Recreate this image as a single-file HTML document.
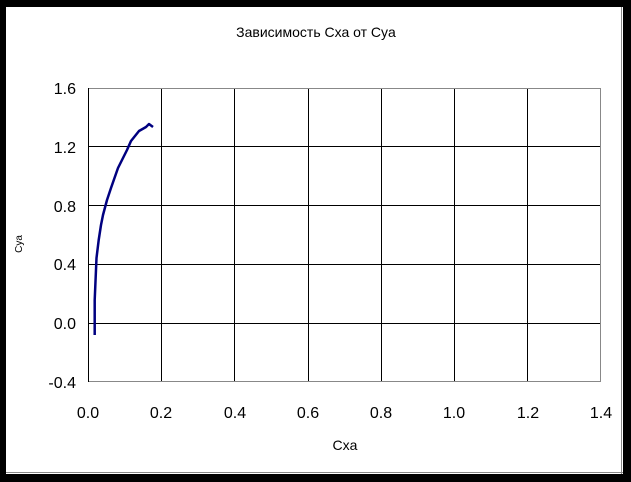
<!DOCTYPE html>
<html><head><meta charset="utf-8"><style>
html,body{margin:0;padding:0;background:#000;}
svg{display:block;font-family:"Liberation Sans",sans-serif;}
</style></head><body>
<svg width="631" height="482" xmlns="http://www.w3.org/2000/svg">
<rect x="0" y="0" width="631" height="482" fill="#000"/>
<rect x="6" y="7" width="617" height="467" fill="#fff"/>
<line x1="621.5" y1="7" x2="621.5" y2="474" stroke="#888" stroke-width="1"/>
<line x1="6" y1="472.5" x2="623" y2="472.5" stroke="#888" stroke-width="1"/>
<text x="316" y="37" font-size="14" text-anchor="middle">Зависимость Сха от Сyа</text>
<g stroke="#000" stroke-width="1">
<line x1="161.5" y1="88" x2="161.5" y2="382"/>
<line x1="234.5" y1="88" x2="234.5" y2="382"/>
<line x1="308.5" y1="88" x2="308.5" y2="382"/>
<line x1="381.5" y1="88" x2="381.5" y2="382"/>
<line x1="454.5" y1="88" x2="454.5" y2="382"/>
<line x1="527.5" y1="88" x2="527.5" y2="382"/>
<line x1="88" y1="146.5" x2="601" y2="146.5"/>
<line x1="88" y1="205.5" x2="601" y2="205.5"/>
<line x1="88" y1="264.5" x2="601" y2="264.5"/>
<line x1="88" y1="323.5" x2="601" y2="323.5"/>
<line x1="88.5" y1="88" x2="88.5" y2="382"/>
</g>
<rect x="88.5" y="88.5" width="512" height="293" fill="none" stroke="#888" stroke-width="1"/>
<line x1="88.5" y1="88" x2="88.5" y2="382" stroke="#000"/>
<g font-size="16" text-anchor="end">
<text x="76" y="94">1.6</text>
<text x="76" y="153">1.2</text>
<text x="76" y="212">0.8</text>
<text x="76" y="270">0.4</text>
<text x="76" y="329">0.0</text>
<text x="76" y="388">-0.4</text>
</g>
<g font-size="16" text-anchor="middle">
<text x="88" y="418">0.0</text>
<text x="161" y="418">0.2</text>
<text x="235" y="418">0.4</text>
<text x="308" y="418">0.6</text>
<text x="381" y="418">0.8</text>
<text x="454" y="418">1.0</text>
<text x="528" y="418">1.2</text>
<text x="601" y="418">1.4</text>
</g>
<text x="345" y="450" font-size="14" text-anchor="middle">Cxa</text>
<text x="22" y="244" font-size="10" text-anchor="middle" transform="rotate(-90 22 244)">Cya</text>
<polyline fill="none" stroke="#000080" stroke-width="2.5" stroke-linejoin="round" points="94.7,335 94.7,300 96.5,258 98.7,240 101,225 103,215 107,200 111,188 118,168 127,150 131,141 139,131 146,127 149,124 153,127"/>
</svg>
</body></html>
